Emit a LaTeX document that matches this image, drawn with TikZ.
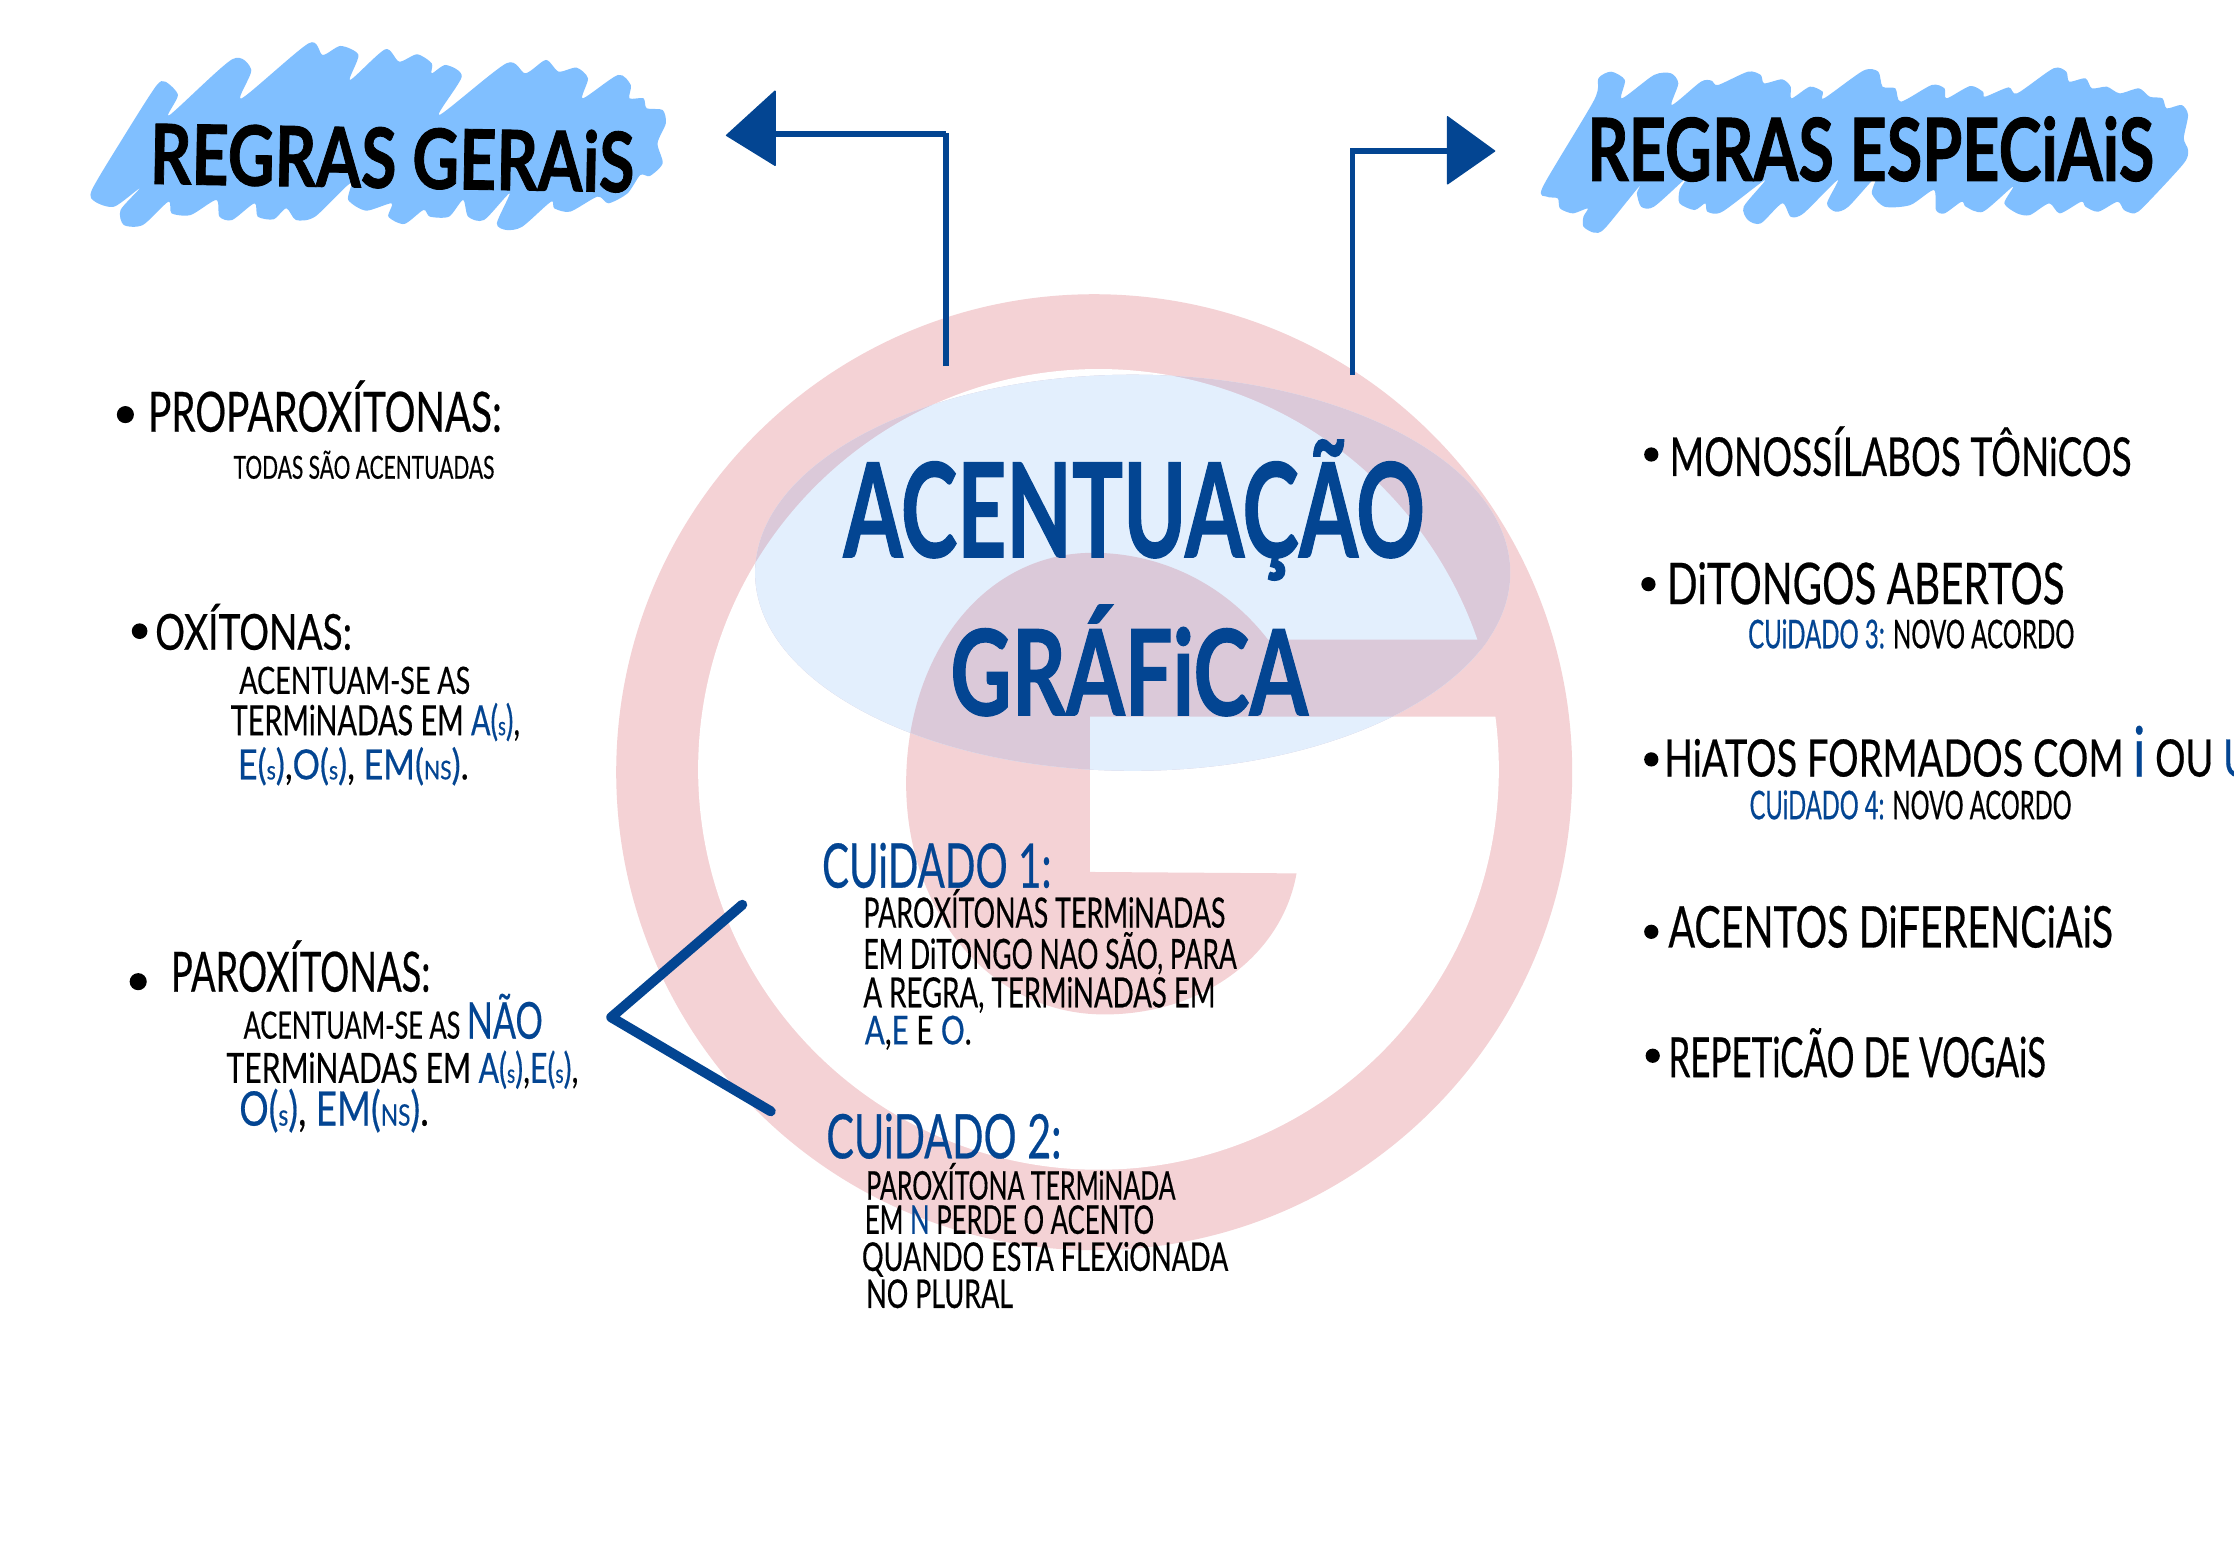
\documentclass[tikz,border=0pt]{standalone}
\usepackage{fontspec}
\usepackage{graphicx}
\setmainfont{Lato}[FakeBold=0.5,BoldFeatures={FakeBold=1.1}]
\definecolor{hblue}{HTML}{034592}
\definecolor{scrib}{HTML}{80BFFF}
\definecolor{pinkl}{HTML}{F4D2D5}
\definecolor{pale}{HTML}{E3EFFD}
\definecolor{mauve}{HTML}{DBC9D9}
\newcommand\bl[1]{\textcolor{hblue}{#1}}
\newcommand\low[1]{\scalebox{.62}{#1}}
\newcommand\bigw[1]{\scalebox{1.35}{#1}}
% width, cap height, text
\newcommand\fitw[3]{\fontsize{\the\dimexpr #2pt*139/100\relax}{#2pt}\selectfont\resizebox{#1pt}{\height}{#3}}
\newcommand\pinkcore{(890,449) .. controls (860,410) and (815,388) .. (767,388)
  .. controls (690,388) and (636,460) .. (636,550)
  .. controls (636,640) and (695,712) .. (775,712)
  .. controls (845,712) and (900,670) .. (910,613)
  -- (765,612) -- (765,503) -- (1060,503) -- (1060,449) -- cycle}
\tikzset{
  txt/.style={anchor=base west,inner sep=0pt,outer sep=0pt,text=black},
  btxt/.style={txt,text=hblue},
  dot/.style={circle,fill=black,inner sep=0pt,minimum size=#1},
  stem/.style={draw=hblue,line join=miter,line cap=butt},
  chev/.style={draw=hblue,line width=7pt,line join=round,line cap=round},
  head/.style={fill=hblue,draw=hblue,line width=1pt,line join=round}
}
\begin{document}
\begin{tikzpicture}[x=1pt,y=-1pt]
\useasboundingbox (0,0) rectangle (1568,1087.9);
\fill[white] (0,0) rectangle (1568,1087.9);

% logo
\fill[pinkl] (768,542) circle [radius=335.5];
\fill[white] (771,540) circle [radius=281];
\fill[pinkl] \pinkcore;
\fill[pale] (795,402) ellipse [x radius=265,y radius=139];
\begin{scope}
  \clip (795,402) ellipse [x radius=265,y radius=139];
  \fill[mauve] (768,542) circle [radius=335.5];
  \fill[pale] (771,540) circle [radius=281];
  \fill[mauve] \pinkcore;
\end{scope}

% left scribble
\begin{scope}[shift={(42.1,14)},x=.4476pt,y=-.234pt]
\fill[scrib] plot[smooth cycle,tension=.45] coordinates {
(50,510)(100,350)(150,200)(165,185)(185,225)(172,285)(270,118)(300,150)(285,235)(390,70)(412,105)(440,78)(468,105)(455,180)(510,88)(532,125)(560,103)(583,130)(583,160)(605,135)(630,170)(595,285)(700,130)(730,160)(762,120)(782,155)(810,143)(828,175)(820,235)(875,165)(895,195)(893,235)(915,235)(920,265)(945,270)(950,310)(937,370)(945,430)(925,468)(910,465)(890,520)(860,550)(843,530)(800,575)(775,565)(770,545)(725,620)(700,630)(685,610)(705,520)(665,600)(640,590)(632,540)(610,590)(580,590)(570,570)(540,612)(515,590)(520,550)(480,572)(452,540)(455,490)(400,590)(370,600)(355,565)(335,598)(310,590)(305,550)(270,600)(250,590)(245,540)(205,585)(175,580)(170,545)(130,615)(100,615)(95,570)(125,505)(85,560)(55,545)};
\end{scope}
% right scribble
\begin{scope}[shift={(1073.9,35.1)},x=.2999pt,y=-.234pt]
\fill[scrib] plot[smooth cycle,tension=.45] coordinates {
(30,410)(150,150)(160,85)(190,65)(222,90)(215,145)(290,75)(330,70)(347,100)(332,165)(400,95)(425,92)(440,105)(510,65)(540,75)(548,100)(590,88)(610,110)(612,145)(655,110)(685,125)(688,145)(780,62)(815,65)(825,110)(855,115)(868,155)(940,105)(970,115)(975,145)(1030,108)(1060,125)(1065,140)(1120,112)(1140,130)(1225,55)(1255,65)(1262,95)(1300,85)(1315,115)(1350,110)(1380,130)(1425,115)(1450,140)(1480,145)(1490,175)(1525,165)(1540,195)(1530,265)(1540,300)(1530,340)(1440,465)(1415,490)(1390,480)(1375,455)(1330,485)(1300,470)(1290,455)(1240,490)(1215,460)(1170,495)(1140,490)(1110,460)(1130,410)(1060,485)(1020,470)(1010,455)(970,490)(950,480)(945,420)(890,465)(830,470)(800,430)(810,380)(745,470)(715,485)(695,460)(720,390)(640,490)(610,500)(590,460)(540,520)(510,510)(500,470)(550,390)(450,485)(415,485)(410,460)(385,480)(350,460)(350,420)(365,385)(290,470)(260,470)(250,430)(255,410)(175,535)(150,548)(125,530)(125,500)(135,475)(100,490)(70,475)(65,445)(40,440)};
\end{scope}

% connectors
\coordinate (la) at (664,257);
\coordinate (lb) at (664,93);
\coordinate (lb2) at (664,94);
\coordinate (lc) at (544,94);
\draw[stem,line width=3.6pt] (la) -- (lb);
\draw[stem,line width=4.6pt] (lb2) -- (lc);
\coordinate (lh1) at (544,64);
\coordinate (lh2) at (510,95);
\coordinate (lh3) at (544,116);
\filldraw[head] (lh1) -- (lh2) -- (lh3) -- cycle;
\coordinate (ra) at (949,263);
\coordinate (rb) at (949,106);
\coordinate (rc) at (1016,106);
\draw[stem,line width=3.6pt] (ra) -- (rb) -- (rc);
\coordinate (rh1) at (1016,82);
\coordinate (rh2) at (1049,106);
\coordinate (rh3) at (1016,129);
\filldraw[head] (rh1) -- (rh2) -- (rh3) -- cycle;
\coordinate (ca) at (521,635);
\coordinate (cb) at (429,714);
\coordinate (cc) at (541,780);
\draw[chev] (ca) -- (cb) -- (cc);

% titles
\node[txt,rotate=-1] (t1) at (105,129) {\bfseries\fitw{340}{42}{REGRAS GERAiS}};
\node[txt] (t2) at (1114,127) {\bfseries\fitw{398}{44}{REGRAS ESPECiAiS}};
\node[btxt] (t3) at (592,391) {\bfseries\fitw{408}{66}{ACENTUAÇÃO}};
\node[btxt] (t4) at (667,502) {\bfseries\fitw{251}{60}{GRÁFiCA}};

% left column
\node[dot=12pt] (b1) at (88,291) {};
\node[txt] (p1) at (104,303) {\fitw{248}{28}{PROPAROXÍTONAS:}};
\node[txt] (p1a) at (164,336) {\fitw{183}{16}{TODAS SÃO ACENTUADAS}};
\node[dot=11pt] (b2) at (98,443) {};
\node[txt] (o1) at (109,456) {\fitw{138}{25}{OXÍTONAS:}};
\node[txt] (o1a) at (168,487) {\fitw{162}{19}{ACENTUAM-SE AS}};
\node[txt] (o1b) at (162,516) {\fitw{203}{21}{TERMiNADAS EM \bl{A(\low{s})},}};
\node[txt] (o1c) at (167,547) {\fitw{162}{21}{\bl{E(\low{s})},\bl{O(\low{s})}, \bl{EM(\low{NS})}.}};
\node[dot=12pt] (b3) at (97,689) {};
\node[txt] (q1) at (120,696) {\fitw{182}{28}{PAROXÍTONAS:}};
\node[txt] (q1a) at (171,729) {\fitw{210}{19}{ACENTUAM-SE AS \bl{\bigw{NÃO}}}};
\node[txt] (q1b) at (159,760) {\fitw{247}{21}{TERMiNADAS EM \bl{A(\low{s})},\bl{E(\low{s})},}};
\node[txt] (q1c) at (168,790) {\fitw{133}{24}{\bl{O(\low{s})}, \bl{EM(\low{NS})}.}};

% centre column
\node[btxt] (c1) at (577,623) {\fitw{161}{31}{CUiDADO 1:}};
\node[txt] (c1a) at (606,651) {\fitw{254}{21}{PAROXÍTONAS TERMiNADAS}};
\node[txt] (c1b) at (606,680) {\fitw{262}{21}{EM DiTONGO NAO SÃO, PARA}};
\node[txt] (c1c) at (606,707) {\fitw{247}{21}{A REGRA, TERMiNADAS EM}};
\node[txt] (c1d) at (607,733) {\fitw{75}{20}{\bl{A},\bl{E} E \bl{O}.}};
\node[btxt] (c2) at (580,813) {\fitw{165}{31}{CUiDADO 2:}};
\node[txt] (c2a) at (608,842) {\fitw{217}{20}{PAROXÍTONA TERMiNADA}};
\node[txt] (c2b) at (607,866) {\fitw{203}{20}{EM \bl{N} PERDE O ACENTO}};
\node[txt] (c2c) at (605,892) {\fitw{257}{20}{QUANDO ESTA FLEXiONADA}};
\node[txt] (c2d) at (608,918) {\fitw{103}{20}{NO PLURAL}};

% right column
\node[dot=10pt] (d1) at (1159,319) {};
\node[txt] (r1) at (1172,334) {\fitw{324}{27}{MONOSSÍLABOS TÔNiCOS}};
\node[dot=10pt] (d2) at (1157,410) {};
\node[txt] (r2) at (1170,424) {\fitw{279}{29}{DiTONGOS ABERTOS}};
\node[txt] (r2a) at (1227,455) {\fitw{229}{20}{\bl{CUiDADO 3:} NOVO ACORDO}};
\node[dot=10pt] (d3) at (1159,533) {};
\node[txt] (r3) at (1168,545) {\fitw{412}{26}{HiATOS FORMADOS COM \bl{\bigw{i}} OU \bl{U}}};
\node[txt] (r3a) at (1228,575) {\fitw{226}{20}{\bl{CUiDADO 4:} NOVO ACORDO}};
\node[dot=10pt] (d4) at (1159,654) {};
\node[txt] (r4) at (1171,665) {\fitw{312}{29}{ACENTOS DiFERENCiAiS}};
\node[dot=10pt] (d5) at (1160,741) {};
\node[txt] (r5) at (1171,756) {\fitw{265}{28}{REPETiCÃO DE VOGAiS}};
\end{tikzpicture}
\end{document}
